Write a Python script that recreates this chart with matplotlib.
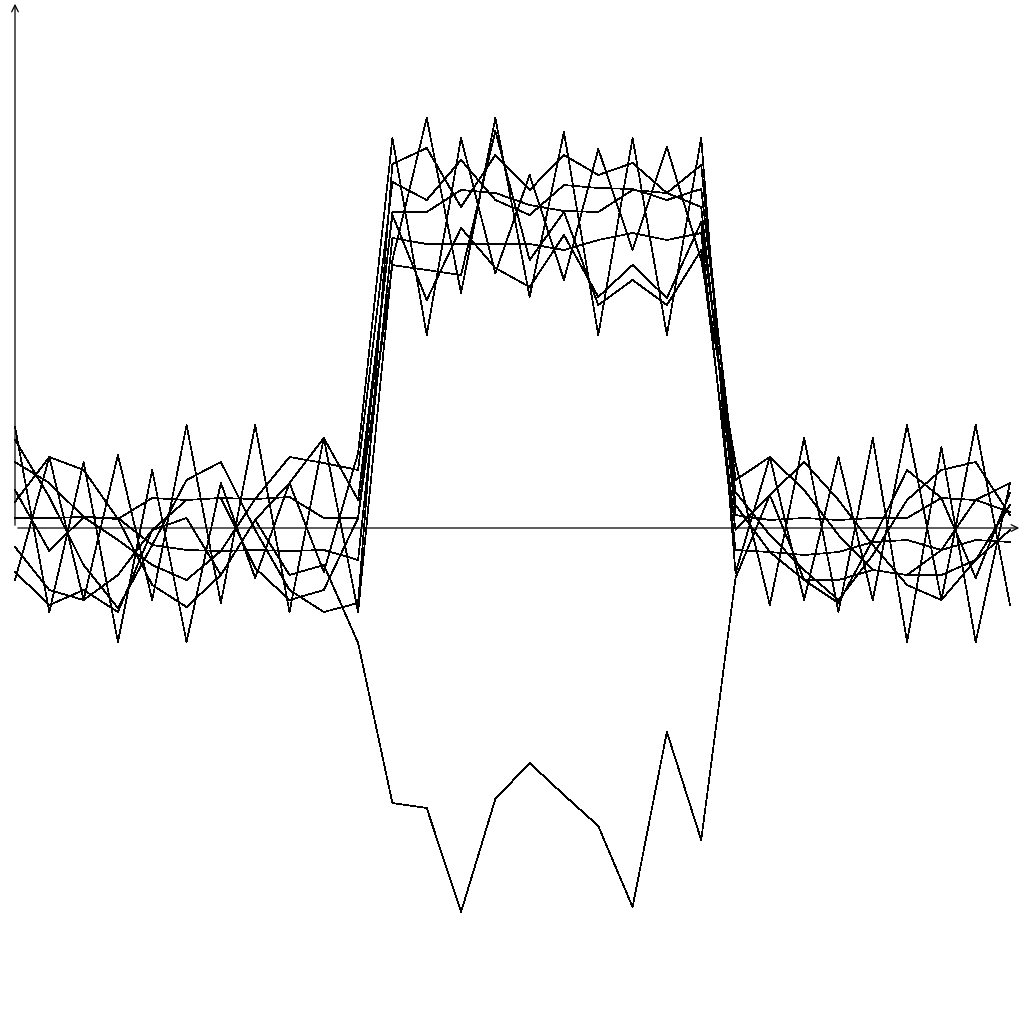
import matplotlib.pyplot as plt
import numpy as np

# sample index along the horizontal axis
n = np.arange(30)

# curve heights above the horizontal axis (arbitrary units)
curve_1 = [101, -84, 66, -114, 58, -114, 45, -50, 45, -44, 75,
           390, 193, 390, 255, 353, 248, 379, 278, 381, 268,
           65, -77, 90, -84, 90, -114, 81, -114, 45]
curve_2 = [-52, 71, -72, 73, -72, 103, -75, 103, -84, 90, -84,
           268, 410, 235, 410, 231, 396, 193, 390, 193, 390,
           -45, 71, -72, 71, -72, 103, -72, 103, -77]
curve_3 = [88, 31, -37, -80, -17, 48, 66, -2, -62, -84, -75,
           364, 380, 321, 373, 338, 373, 353, 365, 335, 363,
           23, -24, -52, -75, -12, 58, 30, -50, 35]
curve_4 = [66, 45, 11, -12, -37, -52, -23, 29, 71, 65, 58,
           346, 328, 368, 328, 313, 343, 340, 339, 328, 339,
           48, 71, 38, -7, -42, -47, -22, 28, 45]
curve_5 = [38, -23, 11, 10, -17, -22, -23, -22, -23, -22, -32,
           290, 284, 284, 284, 284, 278, 288, 295, 288, 295,
           -22, -24, -27, -24, -14, -12, -22, -12, -14]
curve_6 = [10, 10, 11, 9, 30, 28, 30, 29, 31, 10, 10,
           316, 316, 338, 335, 323, 317, 316, 338, 335, 321,
           13, 8, 10, 8, 10, 10, 30, 28, 16]
curve_7 = [26, 71, 58, 9, -57, -79, -47, 8, 45, 90, 28,
           313, 228, 300, 260, 241, 293, 231, 263, 230, 306,
           36, -7, -42, -72, -27, 28, 58, 66, 13]
curve_8 = [-19, -62, -72, -47, -2, 28, 30, -40, -72, -62, 10,
           263, 258, 253, 397, 268, 316, 223, 248, 223, 278,
           -2, 33, 66, 28, -17, -57, -72, -32, -2]
curve_inv = [-44, -77, -62, -84, -2, 10, -47, 8, -47, -37, -115,
             -275, -280, -384, -271, -235, -267, -298, -379, -204, -312,
             -50, 33, -52, -52, -42, -47, -47, -32, 23]

curves = [curve_1, curve_2, curve_3, curve_4, curve_5, curve_6, curve_7, curve_8, curve_inv]

fig = plt.figure(figsize=(10.24, 10.24), dpi=100)
ax = fig.add_axes([0, 0, 1, 1])

for c in curves:
    ax.plot(n, c, color="black", linewidth=0.5, antialiased=False)

# x=0 sits 15 px from the left, one step is about 34.3 px; y=0 sits 528 px from the top
ax.set_xlim(-15 / 34.31, (1024 - 15) / 34.31)
ax.set_ylim(528 - 1024, 528)
ax.axis("off")

# arrow axes
ax.annotate("", xy=(1022 / 1024, 496 / 1024), xytext=(15 / 1024, 496 / 1024),
            xycoords="axes fraction",
            arrowprops=dict(arrowstyle="->", color="black", lw=0.9, mutation_scale=12))
ax.annotate("", xy=(15 / 1024, 1023 / 1024), xytext=(15 / 1024, 496 / 1024),
            xycoords="axes fraction",
            arrowprops=dict(arrowstyle="->", color="black", lw=0.9, mutation_scale=12))

fig.savefig("out.png", dpi=100, facecolor="white")
